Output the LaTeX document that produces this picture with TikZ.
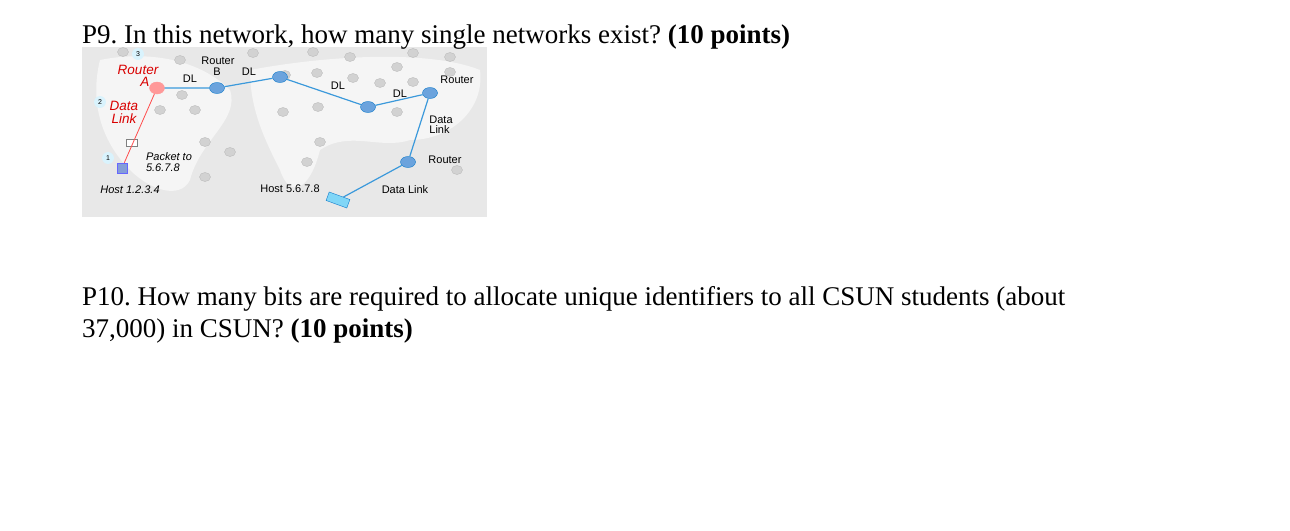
\documentclass[tikz,border=0pt]{standalone}
\usepackage{fontspec}
\usetikzlibrary{shapes.geometric}
\setmainfont{Liberation Serif}
\newfontfamily\lsans{Liberation Sans}
\frenchspacing
\begin{document}
\begin{tikzpicture}[x=1pt,y=-1pt,
  q/.style={font=\fontsize{27}{30}\selectfont,anchor=base west,inner sep=0},
  lab/.style={font=\lsans\fontsize{11}{11}\selectfont,inner sep=0},
  labr/.style={lab,text=red!85!black,font=\lsans\itshape\fontsize{13.5}{13}\selectfont},
  lnk/.style={cyan!70!blue!80,line width=1.2pt},
  grt/.style={ellipse,minimum width=11pt,minimum height=9pt,inner sep=0,fill=gray!35,draw=gray!55},
  brt/.style={ellipse,minimum width=15pt,minimum height=11pt,inner sep=0,fill=cyan!60!blue!60,draw=cyan!60!blue},
  num/.style={circle,fill=cyan!15,inner sep=2pt,font=\lsans\fontsize{7}{7}\selectfont},
]
\useasboundingbox (0,0) rectangle (1290,530);
\fill[white] (0,0) rectangle (1290,530);
% map
\fill[gray!18] (82,47) rectangle (487,217);
\fill[white!92!gray] (100,60) .. controls (150,50) and (200,60) .. (230,90) .. controls (240,120) and (200,140) .. (190,180) .. controls (180,200) and (150,190) .. (130,170) .. controls (100,140) and (90,100) .. cycle;
\fill[white!92!gray] (250,70) .. controls (330,55) and (430,50) .. (480,70) .. controls (485,110) and (450,140) .. (410,140) .. controls (380,150) and (350,130) .. (320,150) .. controls (310,190) and (290,200) .. (280,170) .. controls (265,140) and (250,110) .. cycle;
\foreach \p [count=\i] in {(123,52),(180,60),(182,95),(160,110),(195,110),(205,142),(230,152),(205,177),(253,53),(313,52),(317,73),(350,57),(353,78),(380,83),(397,67),(413,53),(450,57),(413,82),(397,112),(283,112),(318,107),(320,142),(307,162),(457,170),(450,72),(285,75)}
  \node[grt] (g\i) at \p {};
\node[q] (t9) at (82,43) {P9. In this network, how many single networks exist? \textbf{(10 points)}};
\node[q] (t10a) at (82,305) {P10. How many bits are required to allocate unique identifiers to all CSUN students (about};
\node[q] (t10b) at (82,337) {37,000) in CSUN? \textbf{(10 points)}};
% routers
\node[ellipse,minimum width=15pt,minimum height=12pt,inner sep=0,fill=pink!80!red,draw=red!40] (ra) at (157,88) {};
\node[brt] (rb) at (217,88) {};
\node[brt] (rt) at (280,77) {};
\node[brt] (rm) at (368,107) {};
\node[brt] (rr) at (430,93) {};
\node[brt] (rl) at (408,162) {};
\node[draw=cyan!60!blue,fill=cyan!50,minimum width=22pt,minimum height=9pt,inner sep=0,rotate=-20] (h2) at (338,200) {};
\node[draw=blue!60,fill=cyan!40!blue!50,minimum width=10pt,minimum height=10pt,inner sep=0] (h1) at (122,168) {};
\node[draw=gray,fill=white,minimum width=11pt,minimum height=7pt,inner sep=0] (env) at (132,143) {};
\draw[lnk] (ra) -- (rb) -- (rt) -- (rm) -- (rr) -- (rl) -- (h2);
\draw[red!70,line width=0.8pt] (h1) -- (ra);
% labels
\node[labr] (lra) at (138,70) {Router};
\node[labr] (lra2) at (145,82) {A};
\node[labr] (ldl) at (124,106) {Data};
\node[labr] (ldl2) at (124,119) {Link};
\node[lab] (lrb) at (218,61) {Router};
\node[lab] (lrb2) at (217,72) {B};
\node[lab] (d1) at (190,79) {DL};
\node[lab] (d2) at (249,72) {DL};
\node[lab] (d3) at (338,86) {DL};
\node[lab] (d4) at (400,94) {DL};
\node[lab] (lrr) at (457,80) {Router};
\node[lab,align=left] (ldl3) at (441,125) {Data\\[-1pt]Link};
\node[lab] (lrl) at (445,160) {Router};
\node[lab] (ldl4) at (405,190) {Data Link};
\node[lab] (lh2) at (290,189) {Host 5.6.7.8};
\node[lab,font=\lsans\itshape\fontsize{11}{11}\selectfont,align=left] (lpk) at (169,162) {Packet to\\ 5.6.7.8};
\node[lab,font=\lsans\itshape\fontsize{11}{11}\selectfont] (lh1) at (130,190) {Host 1.2.3.4};
\node[num] (n3) at (138,54) {3};
\node[num] (n2) at (100,102) {2};
\node[num] (n1) at (108,158) {1};
\end{tikzpicture}
\end{document}
